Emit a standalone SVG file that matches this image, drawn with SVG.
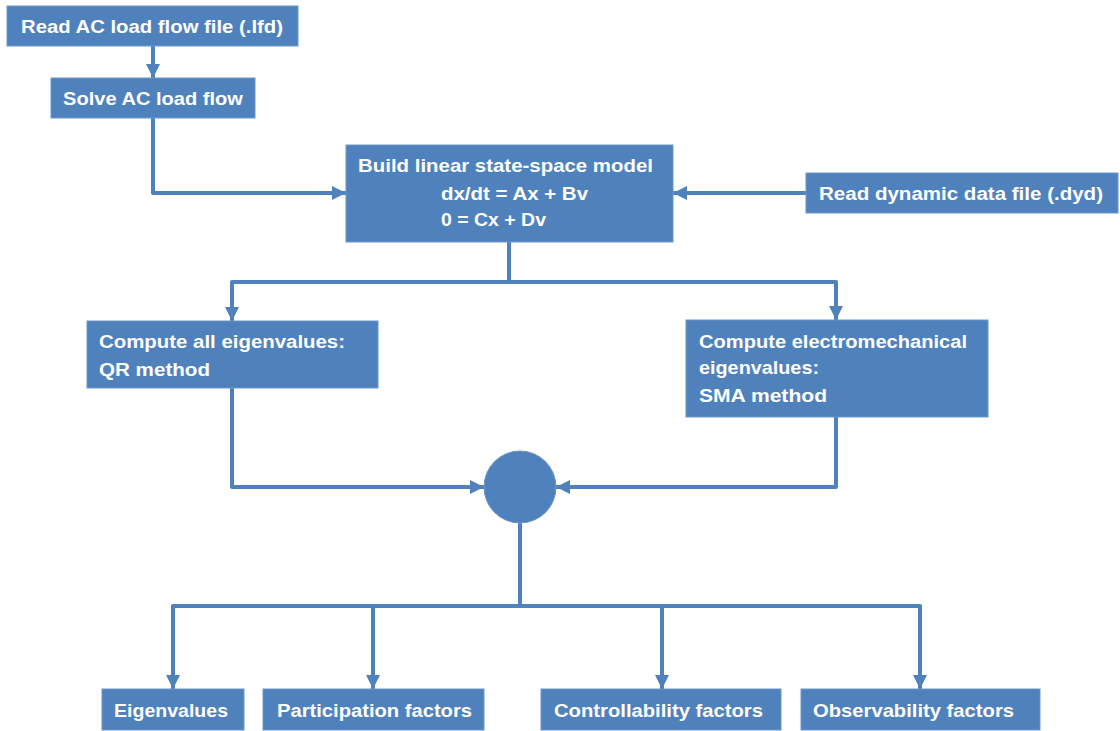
<svg xmlns="http://www.w3.org/2000/svg" width="1120" height="731" viewBox="0 0 1120 731">
  <defs>
    <marker id="arrow" markerUnits="userSpaceOnUse" viewBox="0 0 14 14" refX="14" refY="7" markerWidth="14" markerHeight="14" orient="auto">
      <path d="M0,0 L14,7 L0,14 z" fill="#4F81BD"/>
    </marker>
    <style>
      .box { fill: #4F81BD; stroke: #6C95C8; stroke-width: 1; }
      .lbl { fill: #FFFFFF; font-family: "Liberation Sans", Arial, sans-serif; font-weight: bold; font-size: 18px; }
      .wire { fill: none; stroke: #4F81BD; stroke-width: 4; stroke-linejoin: round; }
      .arr { marker-end: url(#arrow); }
    </style>
  </defs>
  <rect width="1120" height="731" fill="#FFFFFF"/>

  <!-- connectors -->
  <g id="connectors">
    <path class="wire arr" d="M153,46 V78"/>
    <path class="wire arr" d="M153,118 V193 H346"/>
    <path class="wire arr" d="M806,193 H673"/>
    <path class="wire arr" d="M509,242 V282 H232 V321"/>
    <path class="wire arr" d="M509,282 H836 V320"/>
    <path class="wire arr" d="M232,388 V487 H484"/>
    <path class="wire arr" d="M836,417 V487 H556"/>
    <path class="wire" d="M520,523 V606"/>
    <path class="wire arr" d="M520,606 H173 V689"/>
    <path class="wire arr" d="M373,606 V689"/>
    <path class="wire arr" d="M662,606 V689"/>
    <path class="wire arr" d="M520,606 H920 V689"/>
  </g>

  <g id="read-lfd">
    <rect class="box" x="7" y="6" width="291" height="40"/>
    <text class="lbl" x="21" y="33" textLength="262" lengthAdjust="spacingAndGlyphs">Read AC load flow file (.lfd)</text>
  </g>

  <g id="solve-lf">
    <rect class="box" x="51" y="78" width="204" height="40"/>
    <text class="lbl" x="63" y="105" textLength="180" lengthAdjust="spacingAndGlyphs">Solve AC load flow</text>
  </g>

  <g id="build-model">
    <rect class="box" x="346" y="145" width="327" height="97"/>
    <text class="lbl" x="358" y="172" textLength="295" lengthAdjust="spacingAndGlyphs">Build linear state-space model</text>
    <text class="lbl" x="441" y="200" textLength="147" lengthAdjust="spacingAndGlyphs">dx/dt = Ax + Bv</text>
    <text class="lbl" x="441" y="226" textLength="105" lengthAdjust="spacingAndGlyphs">0 = Cx + Dv</text>
  </g>

  <g id="read-dyd">
    <rect class="box" x="806" y="173" width="312" height="40"/>
    <text class="lbl" x="819" y="200" textLength="284" lengthAdjust="spacingAndGlyphs">Read dynamic data file (.dyd)</text>
  </g>

  <g id="qr">
    <rect class="box" x="87" y="321" width="291" height="67"/>
    <text class="lbl" x="99" y="348" textLength="246" lengthAdjust="spacingAndGlyphs">Compute all eigenvalues:</text>
    <text class="lbl" x="99" y="376" textLength="111" lengthAdjust="spacingAndGlyphs">QR method</text>
  </g>

  <g id="sma">
    <rect class="box" x="686" y="320" width="302" height="97"/>
    <text class="lbl" x="699" y="348" textLength="268" lengthAdjust="spacingAndGlyphs">Compute electromechanical</text>
    <text class="lbl" x="699" y="374" textLength="120" lengthAdjust="spacingAndGlyphs">eigenvalues:</text>
    <text class="lbl" x="699" y="402" textLength="128" lengthAdjust="spacingAndGlyphs">SMA method</text>
  </g>

  <g id="junction">
    <circle cx="520" cy="487" r="36" fill="#4F81BD" stroke="#6C95C8" stroke-width="1"/>
  </g>

  <g id="eigenvalues">
    <rect class="box" x="102" y="689" width="142" height="41"/>
    <text class="lbl" x="114" y="717" textLength="114" lengthAdjust="spacingAndGlyphs">Eigenvalues</text>
  </g>

  <g id="participation">
    <rect class="box" x="263" y="689" width="221" height="41"/>
    <text class="lbl" x="277" y="717" textLength="195" lengthAdjust="spacingAndGlyphs">Participation  factors</text>
  </g>

  <g id="controllability">
    <rect class="box" x="541" y="689" width="240" height="41"/>
    <text class="lbl" x="554" y="717" textLength="209" lengthAdjust="spacingAndGlyphs">Controllability factors</text>
  </g>

  <g id="observability">
    <rect class="box" x="801" y="689" width="239" height="41"/>
    <text class="lbl" x="813" y="717" textLength="201" lengthAdjust="spacingAndGlyphs">Observability factors</text>
  </g>
</svg>
